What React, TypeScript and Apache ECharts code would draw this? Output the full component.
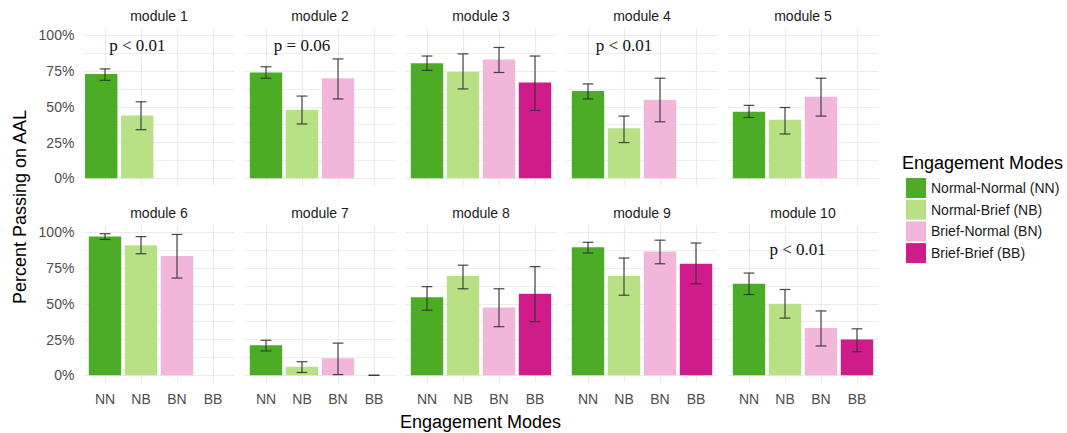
import React, { useEffect, useRef } from 'react';
import * as echarts from 'echarts';

// ---------- data ----------
const CATS = ['NN', 'NB', 'BN', 'BB'];
const MODES = ['Normal-Normal (NN)', 'Normal-Brief (NB)', 'Brief-Normal (BN)', 'Brief-Brief (BB)'];
const COLORS = ['#4dac26', '#b8e186', '#f1b6da', '#d01c8b'];
const MODULES = ['module 1', 'module 2', 'module 3', 'module 4', 'module 5',
  'module 6', 'module 7', 'module 8', 'module 9', 'module 10'];
const Y_TICKS = [0, 25, 50, 75, 100];

// percent passing per module, order NN, NB, BN, BB (null = no group)
const PCT: (number | null)[][] = [
  [73, 44, null, null],
  [74, 48, 70, null],
  [80.5, 74.5, 83, 67],
  [61, 35, 55, null],
  [46.5, 41, 57, null],
  [97, 91, 83.5, null],
  [21, 6, 12, 0],
  [54.5, 69.5, 47.5, 57],
  [89.5, 69.5, 86.5, 78],
  [64, 50, 33, 25],
];
const LOW: (number | null)[][] = [
  [68.5, 34, null, null],
  [70, 38, 55.5, null],
  [75.5, 62.5, 74, 47.5],
  [55.5, 25, 39.5, null],
  [42.5, 31, 43.5, null],
  [95, 85, 68, null],
  [17, 2, 0.5, 0],
  [45.5, 60.5, 34, 37.5],
  [85.5, 56, 78, 64],
  [56.5, 40, 20.5, 16.5],
];
const HIGH: (number | null)[][] = [
  [76.5, 53.5, null, null],
  [78, 57.5, 83.5, null],
  [85.5, 87, 91.5, 85.5],
  [66, 43.5, 70, null],
  [51, 49.5, 70, null],
  [99, 97, 98.5, null],
  [24.5, 9.5, 22.5, 0],
  [62, 77, 60.5, 76],
  [93, 82, 94.5, 92.5],
  [71.5, 60, 45, 32.5],
];

// p-value annotations
const P_TEXT = ['p < 0.01', 'p = 0.06', 'p < 0.01', 'p < 0.01'];
const P_MODULE = [0, 1, 3, 9];
const P_X = [1.9, 2.0, 2.0, 2.35];
const P_Y = [93, 93, 93, 88];

// ---------- layout ----------
const FONT = "'Liberation Sans', Arial, sans-serif";
const PANEL_LEFT0 = 83.4;
const PANEL_STEP = 161;
const PANEL_W = 151.2;
const ROW_TOP = [35.3, 232.3];
const PLOT_H = 143;
const EXP = PLOT_H * 0.05;
const UNIT = PANEL_W / 4.2;
const GRID_COLOR = '#ebebeb';

function buildOption() {
  const grid: any[] = [];
  const xAxis: any[] = [];
  const yAxis: any[] = [];
  const series: any[] = [];
  const graphic: any[] = [];

  for (let i = 0; i < 10; i++) {
    const r = Math.floor(i / 5);
    const c = i % 5;
    const left = PANEL_LEFT0 + c * PANEL_STEP;
    const top = ROW_TOP[r];
    // main grid (0..100%)
    grid.push({ left, top, width: PANEL_W, height: PLOT_H, containLabel: false });
    xAxis.push({
      type: 'value', gridIndex: i, min: 0.4, max: 4.6,
      axisLine: { show: false }, axisTick: { show: false }, splitLine: { show: false },
      axisLabel: {
        show: r === 1, margin: 17, fontSize: 14, color: '#4d4d4d', fontFamily: FONT,
        formatter: (v: number) => (Number.isInteger(v) && v >= 1 && v <= 4 ? CATS[v - 1] : ''),
      },
    });
    yAxis.push({
      type: 'value', gridIndex: i, min: 0, max: 100, interval: 25,
      axisLine: { show: false }, axisTick: { show: false },
      splitLine: { show: true, lineStyle: { color: GRID_COLOR, width: 1.2 } },
      minorTick: { show: false, splitNumber: 2 },
      minorSplitLine: { show: true, lineStyle: { color: GRID_COLOR, width: 0.8 } },
      axisLabel: {
        show: c === 0, margin: 9, fontSize: 14, color: '#4d4d4d', fontFamily: FONT,
        formatter: (v: number) => (Y_TICKS.includes(v) ? v + '%' : ''),
      },
    });
    graphic.push({
      type: 'text', left: 'auto', x: left + PANEL_W / 2, y: r === 0 ? 16 : 213,
      style: {
        text: MODULES[i], font: `14px ${FONT}`, fill: '#1a1a1a',
        align: 'center', verticalAlign: 'middle',
      },
    });
  }
  // background grids with vertical grid lines (full expanded panel height)
  for (let i = 0; i < 10; i++) {
    const r = Math.floor(i / 5);
    const c = i % 5;
    const left = PANEL_LEFT0 + c * PANEL_STEP;
    grid.push({ left, top: ROW_TOP[r] - EXP, width: PANEL_W, height: PLOT_H + 2 * EXP });
    xAxis.push({
      type: 'value', gridIndex: 10 + i, min: 0.4, max: 4.6,
      axisLine: { show: false }, axisTick: { show: false }, axisLabel: { show: false },
      splitLine: {
        show: true, showMinLine: false, showMaxLine: false,
        lineStyle: { color: GRID_COLOR, width: 1.2 },
      },
    });
    yAxis.push({
      type: 'value', gridIndex: 10 + i, min: -5, max: 105,
      axisLine: { show: false }, axisTick: { show: false }, axisLabel: { show: false },
      splitLine: { show: false },
    });
  }

  for (let i = 0; i < 10; i++) {
    const bars: any[] = [];
    const errs: any[] = [];
    for (let k = 0; k < 4; k++) {
      const v = PCT[i][k];
      if (v == null) continue;
      bars.push({ value: [k + 1, v], itemStyle: { color: COLORS[k] } });
      errs.push([k + 1, LOW[i][k], HIGH[i][k]]);
    }
    series.push({
      type: 'bar', xAxisIndex: i, yAxisIndex: i, data: bars,
      barWidth: UNIT * 0.9, z: 3, silent: true,
    });
    series.push({
      type: 'custom', xAxisIndex: i, yAxisIndex: i, data: errs, z: 4, silent: true,
      encode: { x: 0, y: [1, 2] },
      renderItem: (params: any, api: any) => {
        const x = api.value(0);
        const pLo = api.coord([x, api.value(1)]);
        const pHi = api.coord([x, api.value(2)]);
        const hw = api.size([0.15, 0])[0];
        const style = { stroke: '#333333', lineWidth: 1.2, opacity: 0.9 };
        return {
          type: 'group',
          children: [
            { type: 'line', shape: { x1: pLo[0], y1: pLo[1], x2: pHi[0], y2: pHi[1] }, style },
            { type: 'line', shape: { x1: pLo[0] - hw, y1: pLo[1], x2: pLo[0] + hw, y2: pLo[1] }, style },
            { type: 'line', shape: { x1: pHi[0] - hw, y1: pHi[1], x2: pHi[0] + hw, y2: pHi[1] }, style },
          ],
        };
      },
    });
  }

  // p-value annotations
  for (let j = 0; j < P_TEXT.length; j++) {
    const m = P_MODULE[j];
    series.push({
      type: 'custom', xAxisIndex: m, yAxisIndex: m, z: 5, silent: true,
      data: [[P_X[j], P_Y[j]]],
      encode: { x: 0, y: 1 },
      renderItem: (params: any, api: any) => {
        const p = api.coord([api.value(0), api.value(1)]);
        return {
          type: 'text', x: p[0], y: p[1],
          style: {
            text: P_TEXT[j], font: "17px 'Liberation Serif', 'Times New Roman', serif",
            fill: '#111111', align: 'center', verticalAlign: 'middle',
          },
        };
      },
    });
  }

  // legend dummy series
  for (let k = 0; k < 4; k++) {
    series.push({
      type: 'bar', name: MODES[k], xAxisIndex: 0, yAxisIndex: 0, data: [],
      itemStyle: { color: COLORS[k] },
    });
  }

  graphic.push({
    type: 'text', x: 480.5, y: 422,
    style: { text: 'Engagement Modes', font: `18px ${FONT}`, fill: '#000000', align: 'center', verticalAlign: 'middle' },
  });
  graphic.push({
    type: 'text', x: 19.5, y: 207, rotation: Math.PI / 2,
    style: { text: 'Percent Passing on AAL', font: `18px ${FONT}`, fill: '#000000', align: 'center', verticalAlign: 'middle' },
  });
  graphic.push({
    type: 'text', x: 902, y: 163,
    style: { text: 'Engagement Modes', font: `18px ${FONT}`, fill: '#000000', align: 'left', verticalAlign: 'middle' },
  });

  return {
    animation: false,
    backgroundColor: '#ffffff',
    grid, xAxis, yAxis, series, graphic,
    legend: {
      orient: 'vertical', left: 901, top: 173,
      itemWidth: 20, itemHeight: 20, itemGap: 1.7, icon: 'rect',
      selectedMode: false,
      textStyle: { fontSize: 14, color: '#1a1a1a', fontFamily: FONT },
      data: MODES,
    },
  };
}

export default function App() {
  const ref = useRef<HTMLDivElement>(null);
  useEffect(() => {
    const chart = echarts.init(ref.current!, null, { renderer: 'svg' });
    chart.setOption(buildOption());
    return () => chart.dispose();
  }, []);
  return (
    <div
      ref={ref}
      style={{ position: 'absolute', left: 0, top: 0, width: 1067, height: 433 }}
    />
  );
}
